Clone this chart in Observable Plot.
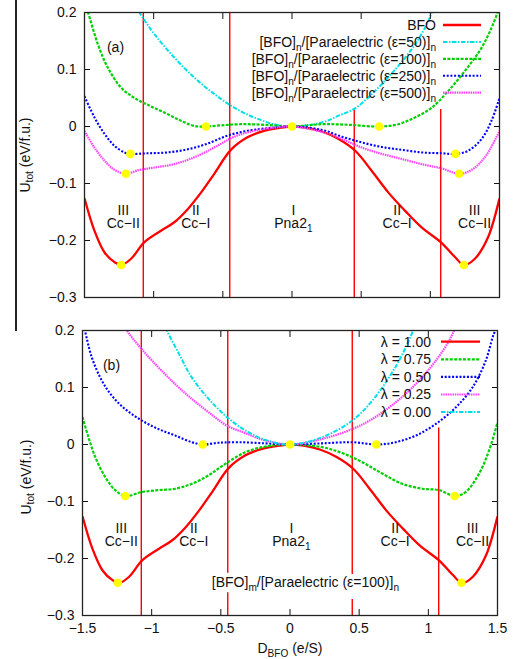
<!DOCTYPE html>
<html><head><meta charset="utf-8">
<script src="https://cdn.jsdelivr.net/npm/d3@7"></script>
<script src="https://cdn.jsdelivr.net/npm/@observablehq/plot@0.6"></script>
<style>
body{margin:0;background:#fff;}
#wrap{position:relative;width:515px;height:659px;font-family:"Liberation Sans",Arial,sans-serif;background:#fff;}
#pa,#pb{position:absolute;left:0;}
#pa{top:0px}
#pb{top:318px}
#vbar{position:absolute;left:15px;top:0;width:1.5px;height:331px;background:#222;z-index:5;}
</style></head><body>
<div id="wrap"><div id="pa"></div><div id="pb"></div><div id="vbar"></div></div>
<script>
// ---------- data ----------
const xTicks = [-1.5, -1, -0.5, 0, 0.5, 1, 1.5];
const yTicks = [-0.3, -0.2, -0.1, 0, 0.1, 0.2];

// BFO (= lambda 1.00)
const bfo = [[-1.5,-0.126],[-1.428,-0.183],[-1.355,-0.221],[-1.283,-0.238],[-1.235,-0.243],[-1.163,-0.232],[-1.067,-0.203],[-0.947,-0.183],[-0.851,-0.168],[-0.754,-0.145],[-0.658,-0.116],[-0.562,-0.083],[-0.442,-0.041],[-0.322,-0.019],[-0.202,-0.0075],[-0.081,-0.002],[0,0],[0.1,-0.002],[0.216,-0.0088],[0.337,-0.022],[0.457,-0.0426],[0.577,-0.078],[0.697,-0.116],[0.818,-0.148],[0.937,-0.177],[1.081,-0.204],[1.178,-0.229],[1.243,-0.243],[1.322,-0.232],[1.418,-0.194],[1.5,-0.126]];
// panel (a) superlattices
const eps50 = [[-1.14,0.215],[-1.103,0.2],[-0.995,0.162],[-0.851,0.121],[-0.707,0.086],[-0.562,0.057],[-0.418,0.033],[-0.274,0.016],[-0.13,0.004],[0,0],[0.216,0.007],[0.337,0.019],[0.457,0.032],[0.601,0.0625],[0.746,0.1],[0.89,0.144],[0.986,0.185],[1.01,0.2],[1.04,0.215]];
const eps100 = [[-1.5,0.215],[-1.475,0.2],[-1.403,0.144],[-1.331,0.103],[-1.235,0.068],[-1.139,0.05],[-1.043,0.038],[-0.923,0.0245],[-0.802,0.010],[-0.707,0.001],[-0.622,0],[-0.514,0.002],[-0.37,0.004],[-0.2,0.003],[0,0],[0.216,0.004],[0.409,0.003],[0.63,0],[0.769,0.004],[0.89,0.016],[1.01,0.033],[1.13,0.0625],[1.25,0.0975],[1.37,0.138],[1.442,0.173],[1.486,0.2],[1.5,0.21]];
const eps250 = [[-1.5,0.053],[-1.428,0.016],[-1.355,-0.013],[-1.283,-0.034],[-1.211,-0.0455],[-1.168,-0.048],[-1.043,-0.047],[-0.899,-0.0455],[-0.754,-0.040],[-0.61,-0.030],[-0.466,-0.016],[-0.322,-0.0075],[-0.178,-0.003],[0,0],[0.216,-0.006],[0.361,-0.018],[0.505,-0.028],[0.649,-0.036],[0.794,-0.041],[0.937,-0.0455],[1.081,-0.047],[1.182,-0.048],[1.274,-0.0425],[1.37,-0.022],[1.442,0.010],[1.5,0.05]];
const eps500 = [[-1.5,-0.008],[-1.428,-0.037],[-1.355,-0.06],[-1.283,-0.076],[-1.2,-0.083],[-1.115,-0.077],[-0.995,-0.072],[-0.851,-0.066],[-0.707,-0.054],[-0.562,-0.037],[-0.418,-0.018],[-0.274,-0.0075],[-0.13,-0.002],[0,0],[0.216,-0.0093],[0.361,-0.022],[0.505,-0.037],[0.649,-0.048],[0.794,-0.057],[0.937,-0.066],[1.081,-0.0735],[1.209,-0.083],[1.299,-0.076],[1.394,-0.054],[1.5,-0.008]];
// panel (b) lambda mixing
const lam075 = [[-1.5,0.048],[-1.457,0.0128],[-1.408,-0.022],[-1.336,-0.057],[-1.264,-0.08],[-1.191,-0.0904],[-1.071,-0.0834],[-0.95,-0.08],[-0.83,-0.0776],[-0.71,-0.069],[-0.588,-0.054],[-0.468,-0.034],[-0.322,-0.0135],[-0.178,-0.0035],[0,0],[0.233,-0.0047],[0.378,-0.015],[0.522,-0.031],[0.667,-0.051],[0.812,-0.069],[0.957,-0.0776],[1.077,-0.08],[1.191,-0.0904],[1.271,-0.083],[1.367,-0.051],[1.439,-0.0105],[1.5,0.039]];
const lam050 = [[-1.5,0.215],[-1.481,0.198],[-1.433,0.153],[-1.36,0.112],[-1.288,0.0857],[-1.191,0.062],[-1.071,0.042],[-0.95,0.027],[-0.83,0.0157],[-0.71,0.004],[-0.631,0],[-0.516,0.003],[-0.37,0.004],[-0.178,0.002],[0,0],[0.233,0.002],[0.45,0.004],[0.624,0],[0.764,0.004],[0.909,0.0157],[1.054,0.036],[1.198,0.065],[1.319,0.1],[1.415,0.147],[1.464,0.1875],[1.483,0.2],[1.5,0.215]];
const lam025 = [[-1.21,0.213],[-1.18,0.2],[-1.071,0.167],[-0.95,0.135],[-0.83,0.106],[-0.71,0.08],[-0.588,0.0565],[-0.455,0.033],[-0.322,0.0198],[-0.178,0.007],[0,0],[0.233,0.0098],[0.45,0.027],[0.595,0.0448],[0.764,0.074],[0.909,0.106],[1.054,0.147],[1.15,0.182],[1.186,0.2],[1.21,0.213]];
const lam000 = [[-0.92,0.22],[-0.89,0.2],[-0.8,0.158],[-0.71,0.1177],[-0.588,0.08],[-0.455,0.048],[-0.322,0.0245],[-0.178,0.008],[0,0],[0.233,0.0128],[0.45,0.042],[0.595,0.077],[0.716,0.1177],[0.812,0.158],[0.89,0.2],[0.92,0.22]];

// stationary points (yellow dots)
const dotsA = [[0,0],[-0.622,0],[0.63,0],[-1.168,-0.048],[1.182,-0.048],[-1.2,-0.083],[1.209,-0.083],[-1.235,-0.243],[1.243,-0.243]];
const dotsB = [[0,0],[-0.631,0],[0.624,0],[-1.191,-0.0904],[1.191,-0.0904],[-1.245,-0.2425],[1.239,-0.2425]];

// phase boundaries (vertical red lines, drawn as segments)
const boundsA = [{x:-1.075,y1:-0.3,y2:0.2},{x:-0.45,y1:-0.3,y2:0.2},{x:0.45,y1:-0.3,y2:0.03},{x:1.075,y1:-0.3,y2:0.03}];
const boundsB = [{x:-1.075,y1:-0.3,y2:0.2},{x:-0.45,y1:-0.226,y2:0.2},{x:-0.45,y1:-0.3,y2:-0.26},{x:0.45,y1:-0.228,y2:0.2},{x:0.45,y1:-0.3,y2:-0.272},{x:1.075,y1:-0.3,y2:0.029}];

// phase labels
const phaseX = [-1.22, -0.695, 0.01, 0.76, 1.32];
const phaseNum = ["III", "II", "I", "II", "III"];
const phaseName = ["Cc−II", "Cc−I", "Pna2_{1}", "Cc−I", "Cc−II"];
const phaseY = -0.159;

const legendA = ["BFO", "[BFO]_{n}/[Paraelectric (ε=50)]_{n}", "[BFO]_{n}/[Paraelectric (ε=100)]_{n}", "[BFO]_{n}/[Paraelectric (ε=250)]_{n}", "[BFO]_{n}/[Paraelectric (ε=500)]_{n}"];
const legendB = ["λ = 1.00", "λ = 0.75", "λ = 0.50", "λ = 0.25", "λ = 0.00"];
const noteB = "[BFO]_{m}/[Paraelectric (ε=100)]_{n}";
const noteBPos = {x: -0.565, y: -0.243};

// ---------- styles ----------
const sty = {
  red:     {stroke: "#ff0000", strokeWidth: 2.3, strokeDasharray: null},
  cyan:    {stroke: "#00dfe8", strokeWidth: 2.0, strokeDasharray: "4.5,1.5,1.5,1.5"},
  green:   {stroke: "#00d000", strokeWidth: 2.2, strokeDasharray: "3,1.4"},
  blue:    {stroke: "#0000ff", strokeWidth: 2.1, strokeDasharray: "2,1.7"},
  magenta: {stroke: "#ff40ff", strokeWidth: 2.2, strokeDasharray: "1.5,0.8"}
};

const fmt = d => (d < 0 ? "−" : "") + Math.abs(d);

function rich(sel, str, shift = 4) {
  sel.text(null);
  const parts = str.split(/(_\{[^}]*\})/);
  let down = false;
  for (const p of parts) {
    if (!p) continue;
    const m = p.match(/^_\{(.*)\}$/);
    if (m) {
      sel.append("tspan").attr("dy", shift).attr("font-size", "0.72em").text(m[1]);
      down = true;
    } else {
      const t = sel.append("tspan").text(p);
      if (down) { t.attr("dy", -shift); down = false; }
    }
  }
}

function makePanel(cfg) {
  const lines = cfg.series.map(([data, s]) => Plot.line(data, {
    x: d => d[0], y: d => d[1], curve: "catmull-rom", clip: true,
    stroke: s.stroke, strokeWidth: s.strokeWidth, strokeDasharray: s.strokeDasharray,
    strokeLinecap: "butt", strokeLinejoin: "round"
  }));
  const svg = Plot.plot({
    width: 515, height: cfg.height,
    marginTop: 12, marginBottom: cfg.marginBottom, marginLeft: cfg.marginLeft, marginRight: cfg.marginRight,
    style: {fontFamily: "'Liberation Sans', Arial, sans-serif", fontSize: "14px", color: "#111", background: "white"},
    x: {domain: [-1.5, 1.5]},
    y: {domain: [-0.3, 0.2]},
    marks: [
      Plot.ruleX(cfg.bounds, {x: "x", y1: "y1", y2: "y2", stroke: "#ff0000", strokeWidth: 1.4}),
      ...lines,
      Plot.dot(cfg.dots, {x: d => d[0], y: d => d[1], r: 4.3, fill: "#ffff00", stroke: null}),
      Plot.text(phaseX, {x: d => d, y: () => phaseY, text: (d, i) => phaseNum[i] + "\n" + phaseName[i], lineHeight: 0.95, fill: "#111"}),
      Plot.text([cfg.tag], {frameAnchor: "top-left", dx: cfg.tagDx, dy: 30, textAnchor: "middle", fill: "#111"}),
      ...(cfg.note ? [Plot.text([cfg.note], {x: () => noteBPos.x, y: () => noteBPos.y, textAnchor: "start", fill: "#111"})] : []),
      Plot.axisX(xTicks, {anchor: "bottom", tickSize: -6, tickPadding: 14, tickFormat: cfg.showX ? fmt : () => "", label: null}),
      Plot.axisX(xTicks, {anchor: "top", tickSize: -6, tickFormat: () => "", label: null}),
      Plot.axisY(yTicks, {anchor: "left", tickSize: -6, tickPadding: 14, tickFormat: fmt, label: null}),
      Plot.axisY(yTicks, {anchor: "right", tickSize: -6, tickFormat: () => "", label: null}),
      Plot.frame({stroke: "#222", strokeWidth: 1.3})
    ]
  });
  const s = d3.select(svg);
  s.selectAll("text, tspan").each(function () {
    const t = this.textContent;
    if (this.childElementCount === 0 && t && t.includes("_{")) rich(d3.select(this), t);
  });
  // legend
  const g = s.append("g").attr("font-size", 14).attr("fill", "#111");
  cfg.legend.forEach((lab, i) => {
    const y = cfg.legTop + i * cfg.legStep;
    const t = g.append("text").attr("x", cfg.legTextX).attr("y", y).attr("dy", "0.35em").attr("text-anchor", "end");
    rich(t, lab);
    const st = cfg.series[i][1];
    g.append("line").attr("x1", cfg.legL1).attr("x2", cfg.legL2).attr("y1", y).attr("y2", y)
      .attr("stroke", st.stroke).attr("stroke-width", st.strokeWidth)
      .attr("stroke-dasharray", st.strokeDasharray).attr("stroke-linecap", "butt");
  });
  // y label
  const yl = s.append("text").attr("transform", `translate(${cfg.yLabX},${cfg.yLabY}) rotate(-90)`)
    .attr("text-anchor", "middle").attr("dy", "0.35em").attr("font-size", 14).attr("fill", "#111");
  rich(yl, "U_{tot} (eV/f.u.)", 3.5);
  if (cfg.showX) {
    const xl = s.append("text").attr("x", 290).attr("y", 330).attr("text-anchor", "middle")
      .attr("dy", "0.35em").attr("font-size", 14).attr("fill", "#111");
    rich(xl, "D_{BFO} (e/S)", 4);
  }
  return svg;
}

const pa = makePanel({
  height: 310, marginBottom: 13, marginLeft: 84, marginRight: 16,
  series: [[bfo, sty.red], [eps50, sty.cyan], [eps100, sty.green], [eps250, sty.blue], [eps500, sty.magenta]],
  dots: dotsA, bounds: boundsA, tag: "(a)", tagDx: 31, note: null, showX: false,
  legend: legendA, legTop: 25, legStep: 16.9, legTextX: 436, legL1: 443, legL2: 481,
  yLabX: 25, yLabY: 155
});
document.getElementById("pa").appendChild(pa);

const pb = makePanel({
  height: 341, marginBottom: 44, marginLeft: 82, marginRight: 18,
  series: [[bfo, sty.red], [lam075, sty.green], [lam050, sty.blue], [lam025, sty.magenta], [lam000, sty.cyan]],
  dots: dotsB, bounds: boundsB, tag: "(b)", tagDx: 29, note: noteB, showX: true,
  legend: legendB, legTop: 23.7, legStep: 17.6, legTextX: 431, legL1: 441, legL2: 480,
  yLabX: 26, yLabY: 159
});
document.getElementById("pb").appendChild(pb);
</script>
</body></html>
